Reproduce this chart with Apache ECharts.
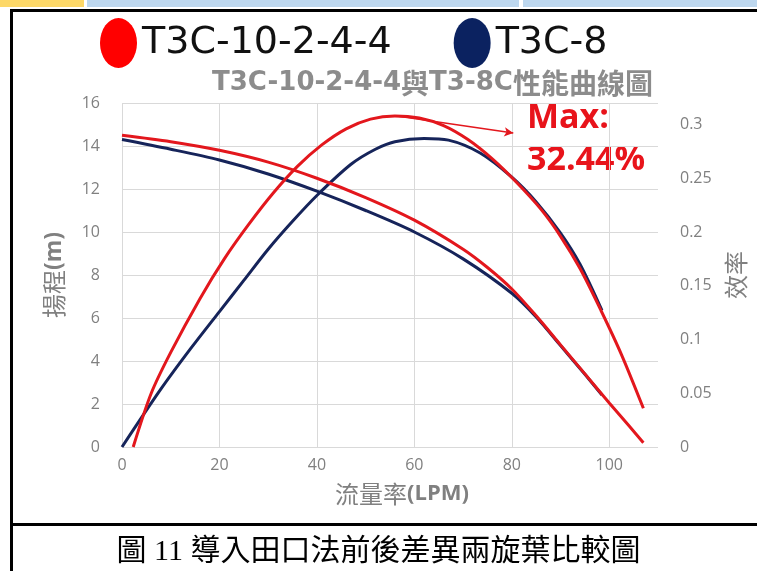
<!DOCTYPE html>
<html><head><meta charset="utf-8">
<script src="https://cdn.jsdelivr.net/npm/echarts@6/dist/echarts.min.js"></script>
<style>html,body{margin:0;padding:0;background:#fff}#c{width:757px;height:571px}</style>
</head><body><div id="c"></div>
<script>
// ---- data ----
const seriesNames = ['T3C-10-2-4-4', 'T3C-8'];
const xTickValues = [0, 20, 40, 60, 80, 100];
const effTickValues = [0, 0.05, 0.1, 0.15, 0.2, 0.25, 0.3];

const redHeadFlow = [0, 10, 20, 30, 40, 50, 60, 70, 75, 80, 85, 90, 95, 100, 104, 107];
const redHead     = [14.5, 14.2, 13.8, 13.25, 12.5, 11.6, 10.55, 9.2, 8.35, 7.35, 6.1, 4.75, 3.4, 2.05, 1.0, 0.2];
const navyHeadFlow = [0, 10, 20, 30, 40, 50, 60, 70, 80, 85, 90, 95, 98.5];
const navyHead     = [14.3, 13.85, 13.35, 12.7, 11.9, 11.0, 10.0, 8.75, 7.15, 6.05, 4.72, 3.38, 2.42];
const redEffFlow = [2.3, 6, 10, 16, 21, 26, 31, 36, 41, 46, 51, 56, 61, 66, 71, 76, 81, 86, 90, 94, 98.3, 102.5, 107];
const redEff     = [0, 0.05, 0.088, 0.138, 0.175, 0.207, 0.236, 0.261, 0.281, 0.296, 0.305, 0.308, 0.306, 0.299, 0.286, 0.268, 0.246, 0.221, 0.196, 0.166, 0.127, 0.086, 0.036];
const navyEffFlow = [0, 8, 14, 20, 25, 30, 35, 40, 47, 52, 56, 62, 67, 73.5, 80, 85, 90, 94, 98.5];
const navyEff     = [0, 0.054, 0.091, 0.126, 0.155, 0.184, 0.21, 0.234, 0.263, 0.277, 0.284, 0.287, 0.2855, 0.2735, 0.251, 0.228, 0.199, 0.170, 0.127];
const maxPoint = [56.4, 0.308];
const arrowEnd = [80.3, 0.292];
const maxLabel = 'Max:\n32.44%';

// ---- build ----
const zip = (xs, ys) => xs.map((x, i) => [x, ys[i]]);
const RED = '#e3171d', NAVY = '#16245a';
const GRAY = '#808080';
const ellipse = 'path://M18.5 0 A18.5 25 0 1 1 18.5 50 A18.5 25 0 1 1 18.5 0 Z';
const lineBase = {type: 'line', smooth: 0.3, showSymbol: false};

const chart = echarts.init(document.getElementById('c'), null, {renderer: 'canvas'});
chart.setOption({
  animation: false,
  backgroundColor: '#fff',
  title: [
    {
      text: '{b|T3C-10-2-4-4}{c|與}{b|T3-8C}{c|性能曲線圖}',
      left: 207, top: 64,
      textStyle: {
        rich: {
          b: {fontSize: 26, fontWeight: 'bold', fontFamily: 'DejaVu Sans', color: '#8c8c8c'},
          c: {fontSize: 28, fontFamily: 'Noto Sans CJK TC', color: '#8c8c8c'}
        }
      }
    },
    {
      text: '圖 11 導入田口法前後差異兩旋葉比較圖',
      left: 'center', top: 532,
      textStyle: {fontSize: 30, fontWeight: 'normal', fontFamily: "'Liberation Serif','Noto Sans CJK TC'", color: '#000'}
    }
  ],
  legend: {
    data: [
      {name: seriesNames[0], itemStyle: {color: '#ff0000'}},
      {name: seriesNames[1], itemStyle: {color: '#0b2260'}}
    ],
    icon: ellipse,
    left: 95, top: 13,
    itemWidth: 37, itemHeight: 50, itemGap: 62,
    textStyle: {fontSize: 38, fontFamily: 'DejaVu Sans', color: '#111'},
    selectedMode: false
  },
  grid: {left: 122, right: 99, top: 103, bottom: 124, containLabel: false},
  xAxis: {
    type: 'value', min: 0, max: 110, interval: 20,
    name: '{c|流量率}{b|(LPM)}', nameLocation: 'middle', nameGap: 35,
    nameTextStyle: {
      padding: [0, 0, 0, 24],
      rich: {
        c: {fontSize: 24, fontFamily: 'Noto Sans CJK TC', color: GRAY},
        b: {fontSize: 22, fontWeight: 'bold', fontFamily: 'Open Sans', color: GRAY}
      }
    },
    axisLine: {show: false},
    axisTick: {show: false, customValues: xTickValues},
    axisLabel: {customValues: xTickValues, margin: 10, fontSize: 16, fontFamily: 'Open Sans', color: GRAY},
    splitLine: {show: true, lineStyle: {color: '#d9d9d9', width: 1}}
  },
  yAxis: [
    {
      type: 'value', min: 0, max: 16, interval: 2,
      name: '{c|揚程}{b|(m)}', nameLocation: 'middle', nameGap: 56, nameRotate: 90,
      nameTextStyle: {
        rich: {
          c: {fontSize: 24, fontFamily: 'Noto Sans CJK TC', color: GRAY},
          b: {fontSize: 23, fontWeight: 'bold', fontFamily: 'Open Sans', color: GRAY}
        }
      },
      axisLine: {show: false}, axisTick: {show: false},
      axisLabel: {margin: 22, fontSize: 16, fontFamily: 'Open Sans', color: GRAY},
      splitLine: {show: true, lineStyle: {color: '#d9d9d9', width: 1}}
    },
    {
      type: 'value', min: 0, max: 0.32, interval: 0.05, position: 'right',
      name: '效率', nameLocation: 'middle', nameGap: 66, nameRotate: 90,
      nameTextStyle: {fontSize: 24, fontFamily: 'Noto Sans CJK TC', color: GRAY},
      axisLine: {show: false}, axisTick: {show: false},
      axisLabel: {customValues: effTickValues, margin: 22, fontSize: 16, fontFamily: 'Open Sans', color: GRAY},
      splitLine: {show: false}
    }
  ],
  series: [
    Object.assign({}, lineBase, {name: seriesNames[1], yAxisIndex: 0, data: zip(navyHeadFlow, navyHead),
      lineStyle: {color: NAVY, width: 3}, itemStyle: {color: NAVY}}),
    Object.assign({}, lineBase, {name: seriesNames[1], yAxisIndex: 1, data: zip(navyEffFlow, navyEff),
      lineStyle: {color: NAVY, width: 3}, itemStyle: {color: NAVY}}),
    Object.assign({}, lineBase, {name: seriesNames[0], yAxisIndex: 0, data: zip(redHeadFlow, redHead),
      lineStyle: {color: RED, width: 3}, itemStyle: {color: RED}}),
    Object.assign({}, lineBase, {name: seriesNames[0], yAxisIndex: 1, data: zip(redEffFlow, redEff),
      lineStyle: {color: RED, width: 3}, itemStyle: {color: RED},
      markLine: {
        silent: true, symbol: ['none', 'arrow'], symbolSize: [7, 9],
        label: {show: false},
        lineStyle: {color: RED, width: 1.5, type: 'solid'},
        data: [[{coord: maxPoint}, {coord: arrowEnd}]]
      }})
  ],
  graphic: [
    {type: 'rect', shape: {x: 0, y: 0, width: 84, height: 7}, style: {fill: '#fdd868'}, silent: true},
    {type: 'rect', shape: {x: 87, y: 0, width: 432, height: 7}, style: {fill: '#bdd7ee'}, silent: true},
    {type: 'rect', shape: {x: 523, y: 0, width: 234, height: 7}, style: {fill: '#bdd7ee'}, silent: true},
    {type: 'rect', shape: {x: 10, y: 9, width: 747, height: 3}, style: {fill: '#000'}, silent: true},
    {type: 'rect', shape: {x: 10, y: 9, width: 3, height: 562}, style: {fill: '#000'}, silent: true},
    {type: 'rect', shape: {x: 10, y: 523, width: 747, height: 3}, style: {fill: '#000'}, silent: true},
    {type: 'text', left: 527, top: 97, silent: true,
      style: {text: maxLabel, font: "bold 34px 'Open Sans'", fill: '#e8141b', lineHeight: 42}}
  ]
});
</script>
</body></html>
